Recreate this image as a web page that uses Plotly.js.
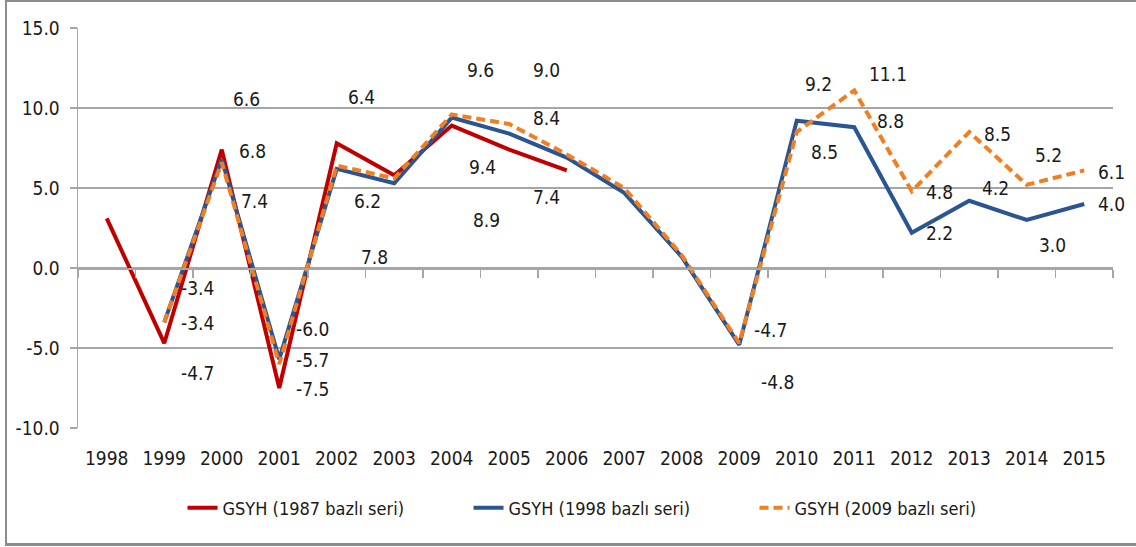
<!DOCTYPE html>
<html>
<head>
<meta charset="utf-8">
<script src="https://cdn.plot.ly/plotly-3.0.1.min.js"></script>
<style>
  html, body { margin: 0; padding: 0; background: #ffffff; }
  svg text { font-stretch: condensed; }
  #wrap { position: relative; width: 1136px; height: 547px; overflow: hidden; }
  #chart { position: absolute; left: 0; top: 0; width: 1136px; height: 547px; }
  #frame { position: absolute; left: 5px; top: 0; width: 1140px; height: 546px;
           border-left: 2px solid #8c8c8c; border-top: 2px solid #8c8c8c; border-bottom: 3px solid #8c8c8c;
           box-sizing: border-box; pointer-events: none; }
</style>
</head>
<body>
<div id="wrap">
  <div id="chart"></div>
  <div id="frame"></div>
</div>
<script>
// ---- data ----
const years = ["1998","1999","2000","2001","2002","2003","2004","2005","2006","2007","2008","2009","2010","2011","2012","2013","2014","2015"];
const seriesNames = ["GSYH (1987 bazlı seri)", "GSYH (1998 bazlı seri)", "GSYH (2009 bazlı seri)"];
const gdp1987 = [3.1, -4.7, 7.4, -7.5, 7.8, 5.8, 8.9, 7.4, 6.1, null, null, null, null, null, null, null, null, null];
const gdp1998 = [null, -3.4, 6.8, -5.7, 6.2, 5.3, 9.4, 8.4, 6.9, 4.7, 0.7, -4.8, 9.2, 8.8, 2.2, 4.2, 3.0, 4.0];
const gdp2009 = [null, -3.4, 6.6, -6.0, 6.4, 5.6, 9.6, 9.0, 7.1, 5.0, 0.8, -4.7, 8.5, 11.1, 4.8, 8.5, 5.2, 6.1];
const yTickVals = [-10, -5, 0, 5, 10, 15];

// ---- label placement (which point is labelled, where the label sits) ----
// [year index, label y (axis units), x shift px]
const labels1987 = [[1,-6.54,33],[2,4.17,33],[3,-7.56,33],[4,0.69,38],[6,3.03,35],[7,4.44,37]];
const labels1998 = [[1,-3.44,33],[2,7.31,31],[3,-5.77,33],[4,4.17,31],[6,6.31,31],[7,9.40,37],
                    [11,-7.12,38],[12,11.48,22],[13,9.19,36],[14,2.19,28],[15,5.00,26],[16,1.42,26],[17,4.00,27]];
const labels2009 = [[1,-1.23,33],[2,10.54,25],[3,-3.83,33],[4,10.69,25],[6,12.36,29],[7,12.36,37],
                    [11,-3.89,31],[12,7.25,28],[13,12.11,34],[14,4.75,28],[15,8.40,28],[16,7.04,22],[17,6.00,27]];

// ---- styles ----
const FONT = "'Liberation Sans Narrow', 'DejaVu Sans Condensed', 'DejaVu Sans', sans-serif";
const FS = 19, FS_LEG = 18;
const TXT = "#1a1a1a";
const GRID = "#a6a6a6";
const RED = "#c00000", BLUE = "#2b5592", ORANGE = "#f07f22";
const XRANGE = [-0.5, years.length - 0.5];

function mkAnn(list, values) {
  return list.map(([i, yy, dx]) => ({
    x: i, y: yy, xref: "x", yref: "y", xshift: dx,
    text: values[i].toFixed(1), showarrow: false,
    font: {family: FONT, size: FS, color: TXT}, xanchor: "center", yanchor: "middle"
  }));
}

const traces = [
  {x: years, y: gdp1987, name: seriesNames[0], type: "scatter", mode: "lines",
   line: {color: RED, width: 4}, hoverinfo: "skip"},
  {x: years, y: gdp1998, name: seriesNames[1], type: "scatter", mode: "lines",
   line: {color: BLUE, width: 4}, hoverinfo: "skip"},
  {x: years, y: gdp2009, name: seriesNames[2], type: "scatter", mode: "lines",
   line: {color: ORANGE, width: 4, dash: "9px,5px"}, hoverinfo: "skip"},
  // carrier for the category axis drawn across zero
  {x: years, y: gdp1998, xaxis: "x2", type: "scatter", mode: "lines",
   line: {width: 0, color: "rgba(0,0,0,0)"}, showlegend: false, hoverinfo: "skip"}
];

const layout = {
  width: 1136, height: 547,
  margin: {l: 78, r: 23, t: 28, b: 119, pad: 0, autoexpand: false},
  paper_bgcolor: "#ffffff", plot_bgcolor: "#ffffff",
  font: {family: FONT, size: FS, color: TXT},
  showlegend: true,
  legend: {orientation: "h", x: 0.101, xanchor: "left", y: -0.2, yanchor: "middle",
           font: {family: FONT, size: FS_LEG, color: TXT}, entrywidth: 241, entrywidthmode: "pixels",
           bgcolor: "rgba(0,0,0,0)"},
  xaxis: {type: "category", categoryarray: years, categoryorder: "array", range: XRANGE,
          showgrid: false, zeroline: false, showline: false, ticks: "",
          tickfont: {family: FONT, size: FS, color: TXT}, ticklabelstandoff: 17, fixedrange: true},
  xaxis2: {type: "category", categoryarray: years, categoryorder: "array", range: XRANGE,
           overlaying: "x", anchor: "free", position: 0.4, side: "bottom",
           showgrid: false, zeroline: false, showline: true, linecolor: GRID, linewidth: 1.5,
           ticks: "outside", tickson: "boundaries", ticklen: 8, tickwidth: 1.5, tickcolor: GRID,
           showticklabels: false, fixedrange: true},
  yaxis: {range: [-10, 15], tickvals: yTickVals, ticktext: yTickVals.map(v => v.toFixed(1)),
          showgrid: true, gridcolor: GRID, gridwidth: 1.5, zeroline: false,
          showline: true, linecolor: GRID, linewidth: 1.5,
          ticks: "outside", ticklen: 7, tickcolor: GRID, tickwidth: 1.5, ticklabelstandoff: 6,
          tickfont: {family: FONT, size: FS, color: TXT}, fixedrange: true},
  annotations: [].concat(mkAnn(labels2009, gdp2009), mkAnn(labels1998, gdp1998), mkAnn(labels1987, gdp1987))
};

Plotly.newPlot("chart", traces, layout, {staticPlot: true, displayModeBar: false});
</script>
</body>
</html>
